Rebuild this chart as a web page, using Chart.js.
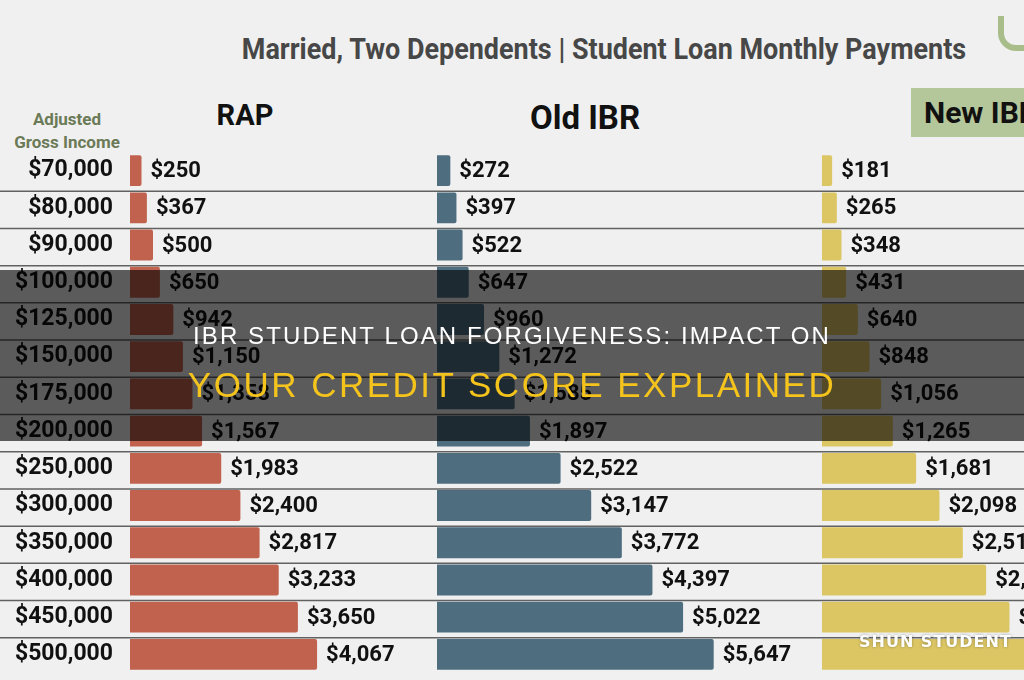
<!DOCTYPE html>
<html>
<head>
<meta charset="utf-8">
<script src="https://cdn.jsdelivr.net/npm/chart.js@4.4.0/dist/chart.umd.min.js"></script>
<style>
  body { margin: 0; background: #f0f0f0; }
  #page { position: relative; width: 1024px; height: 680px; overflow: hidden; background: #f0f0f0; font-family: Roboto, sans-serif; }
  canvas { position: absolute; top: 152px; }
  .txt { position: absolute; white-space: nowrap; line-height: 1; }
  #title { left: 604px; top: 32px; transform: translateX(-50%) scaleX(0.93); font: bold 29px Roboto, sans-serif; color: #474747; }
  #logo { position: absolute; left: 998px; top: 16px; width: 40px; height: 29px; border: 6px solid #a9bd8b; border-top: none; border-radius: 0 0 18px 18px; }
  #rap { left: 245px; top: 98px; transform: translateX(-50%); font: bold 29px Roboto, sans-serif; color: #111; }
  #old { left: 585px; top: 98px; transform: translateX(-50%); font: bold 33px Roboto, sans-serif; color: #111; }
  #newbox { position: absolute; left: 911px; top: 88px; width: 150px; height: 49px; background: #b4c79b; }
  #new { left: 13px; top: 7px; font: bold 30px Roboto, sans-serif; color: #111; }
  #agi { left: 67px; top: 108px; transform: translateX(-50%); text-align: center; font: bold 17px Roboto, sans-serif; line-height: 23px; color: #6b7a57; }
  #band { position: absolute; left: 0; top: 270px; width: 1024px; height: 171px; background: rgba(0,0,0,0.62); z-index: 5; }
  #line1 { left: 512px; top: 322px; transform: translateX(-50%); font: 24px "Liberation Sans", Arial, sans-serif; letter-spacing: 2.1px; color: #fff; z-index: 6; }
  #line2 { left: 512px; top: 365px; transform: translateX(-50%); font: 35px "Liberation Sans", Arial, sans-serif; letter-spacing: 2.5px; color: #f4c31c; z-index: 6; }
  #mark { left: 859px; top: 632px; font: bold 16px "DejaVu Sans", sans-serif; letter-spacing: 1px; color: #fff; text-shadow: 0 0 3px rgba(0,0,0,0.35); z-index: 6; }
</style>
</head>
<body>
<div id="page">
  <div id="title" class="txt">Married, Two Dependents | Student Loan Monthly Payments</div>
  <div id="logo"></div>
  <div id="rap" class="txt">RAP</div>
  <div id="old" class="txt">Old IBR</div>
  <div id="newbox"><div id="new" class="txt">New IBR</div></div>
  <div id="agi" class="txt">Adjusted<br>Gross Income</div>

  <canvas id="rapChart" width="437" height="521" style="left:0px"></canvas>
  <canvas id="oldChart" width="385" height="521" style="left:437px"></canvas>
  <canvas id="newChart" width="202" height="521" style="left:822px"></canvas>

  <div id="band"></div>
  <div id="line1" class="txt">IBR STUDENT LOAN FORGIVENESS: IMPACT ON</div>
  <div id="line2" class="txt">YOUR CREDIT SCORE EXPLAINED</div>
  <div id="mark" class="txt">SHUN STUDENT</div>
</div>

<script>
  const incomes = ["$70,000", "$80,000", "$90,000", "$100,000", "$125,000", "$150,000", "$175,000",
    "$200,000", "$250,000", "$300,000", "$350,000", "$400,000", "$450,000", "$500,000"];
  const rapPayments = [250, 367, 500, 650, 942, 1150, 1358, 1567, 1983, 2400, 2817, 3233, 3650, 4067];
  const oldIbrPayments = [272, 397, 522, 647, 960, 1272, 1585, 1897, 2522, 3147, 3772, 4397, 5022, 5647];
  const newIbrPayments = [181, 265, 348, 431, 640, 848, 1056, 1265, 1681, 2098, 2515, 2931, 3348, 3765];

  // lines between the rows, right across each canvas
  const rowLines = {
    id: "rowLines",
    beforeDatasetsDraw(chart) {
      const { ctx, scales: { y } } = chart;
      ctx.save();
      ctx.strokeStyle = "#616161";
      ctx.lineWidth = 1.5;
      for (let i = 1; i < incomes.length; i++) {
        const yy = (y.getPixelForValue(i - 1) + y.getPixelForValue(i)) / 2 + 2;
        ctx.beginPath();
        ctx.moveTo(0, yy);
        ctx.lineTo(chart.width, yy);
        ctx.stroke();
      }
      ctx.restore();
    }
  };

  // "$1,234" next to each bar
  const valueLabels = {
    id: "valueLabels",
    afterDatasetsDraw(chart) {
      const { ctx } = chart;
      const values = chart.data.datasets[0].data;
      ctx.save();
      ctx.font = "bold 22px Roboto";
      ctx.fillStyle = "#111";
      ctx.textAlign = "left";
      ctx.textBaseline = "middle";
      chart.getDatasetMeta(0).data.forEach((bar, i) => {
        ctx.fillText("$" + values[i].toLocaleString("en-US"), bar.x + 9, bar.y + 1);
      });
      ctx.restore();
    }
  };

  let plotPanel = (id, values, color, xMax, showIncomes) => {
    const ctx = document.getElementById(id);
    const config = {
      type: "bar",
      data: {
        labels: incomes,
        datasets: [
          {
            data: values,
            backgroundColor: color,
            borderRadius: 2,
            borderSkipped: "start",
            barPercentage: 0.83,
            categoryPercentage: 1,
          },
        ],
      },
      options: {
        indexAxis: "y",
        responsive: false,
        animation: false,
        layout: { padding: 0 },
        plugins: { legend: { display: false }, tooltip: { enabled: false } },
        scales: {
          x: { display: false, min: 0, max: xMax },
          y: {
            display: showIncomes,
            grid: { display: false, drawTicks: false },
            border: { display: false },
            ticks: { padding: 17, color: "#111", font: { family: "Roboto", size: 23, weight: "bold" } },
            afterFit: (axis) => {
              axis.width = showIncomes ? 130 : 0;
              axis.paddingTop = 0;
              axis.paddingBottom = 0;
            },
          },
        },
      },
      plugins: [rowLines, valueLabels],
    };
    new Chart(ctx, config);
  };

  plotPanel("rapChart", rapPayments, "#c0624e", 6674, true);
  plotPanel("oldChart", oldIbrPayments, "#4e6e80", 7857, false);
  plotPanel("newChart", newIbrPayments, "#dcc664", 3607, false);
</script>
</body>
</html>
